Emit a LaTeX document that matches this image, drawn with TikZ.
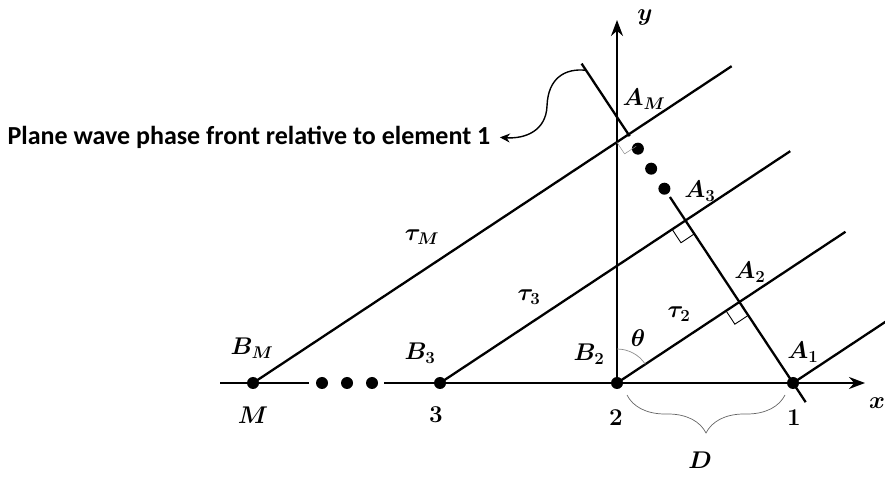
\documentclass[tikz,border=0pt]{standalone}
\usepackage{fix-cm}
\usepackage{fontspec}
\usepackage{amsmath,bm,graphicx}
\newfontfamily\labelfont{Carlito}
\newcommand\mlab[1]{\scalebox{1.15}{$\bm{#1}$}}
\usetikzlibrary{calc,arrows.meta,decorations.pathreplacing}

\begin{document}
\begin{tikzpicture}[x=1pt,y=1pt,>={Stealth[length=16pt,width=12pt]},
  every node/.style={font=\fontsize{21}{24}\selectfont},
  elem/.style={circle,fill,inner sep=0pt,minimum size=12pt},
  mainline/.style={line width=2.3pt},
  rmark/.style={line width=0.9pt},
  thinmark/.style={line width=0.5pt,black!45},
  bracestyle/.style={line width=0.7pt,black!60,decorate,decoration={brace,amplitude=38pt}},
  frontarrow/.style={line width=1.4pt,-{Stealth[length=10pt,width=9pt]},shorten >=6pt}]
  \useasboundingbox (0,0) rectangle (885,476);
  % elements on the x axis
  \node[elem] (eM) at (253,93) {};
  \node[elem] (e3) at (440,93) {};
  \node[elem] (e2) at (617,93) {};
  \node[elem] (e1) at (793,93) {};
  \foreach \x/\n in {322/1,347/2,372/3}
    \node[elem] (gap\n) at (\x,93) {};
  % axes
  \coordinate (xs) at (220,93);
  \coordinate (xg) at (309,93);
  \coordinate (xr) at (384,93);
  \coordinate (xe) at (865,93);
  \coordinate (ye) at (617,456);
  \draw[mainline] (xs) -- (xg);
  \draw[mainline,->] (xr) -- (xe);
  \draw[mainline,->] (e2.center) -- (ye);
  % incoming rays
  \coordinate (rM) at ($(eM)+(33.5:574)$);
  \coordinate (r3) at ($(e3)+(33.5:420)$);
  \coordinate (r2) at ($(e2)+(33.5:274)$);
  \coordinate (r1) at ($(e1)+(33.5:140)$);
  \draw[mainline] (eM.center) -- (rM);
  \draw[mainline] (e3.center) -- (r3);
  \draw[mainline] (e2.center) -- (r2);
  \draw[mainline] (e1.center) -- (r1);
  % phase front
  \coordinate (ftop) at ($(e1)+(123.5:383)$);
  \coordinate (fbot) at ($(e1)+(-56.5:23)$);
  \coordinate (AM) at ($(e1)!(eM)!(ftop)$);
  \coordinate (A3) at ($(e1)!(e3)!(ftop)$);
  \coordinate (A2) at ($(e1)!(e2)!(ftop)$);
  \draw[mainline] (ftop) -- ($(AM)!2pt!(e1)$);
  \draw[mainline] ($(AM)!75pt!(e1)$) -- (fbot);
  \foreach \d/\n in {17/1,41/2,65/3}
    \node[elem] (fd\n) at ($(AM)!\d pt!(e1)$) {};
  % right angles
  \foreach \a/\e in {A2/e2,A3/e3}{
    \coordinate (ma) at ($(\a)!16pt!(\e)$);
    \coordinate (mb) at ($(\a)!16pt!(e1)$);
    \draw[rmark] (ma) -- ($(ma)+(mb)-(\a)$) -- (mb);
  }
  \coordinate (ma) at ($(AM)!14pt!(eM)$);
  \coordinate (mb) at ($(AM)!14pt!(e1)$);
  \draw[thinmark] (ma) -- ($(ma)+(mb)-(AM)$) -- (mb);
  % angle and spacing
  \draw[thinmark,line width=0.7pt] ($(e2)+(90:34)$) arc[start angle=90,end angle=33.5,radius=34];
  \coordinate (bR) at (785,81);
  \coordinate (bL) at (627,81);
  \draw[bracestyle] (bR) -- (bL);
  % labels
  \node (lAM) at (644,377) {\mlab{A_M}};
  \node (lA3) at (700,285) {\mlab{A_3}};
  \node (lA2) at (750,204) {\mlab{A_2}};
  \node (lA1) at (803,124) {\mlab{A_1}};
  \node (lB2) at (589,122) {\mlab{B_2}};
  \node (lB3) at (420,123) {\mlab{B_3}};
  \node (lBM) at (252,128) {\mlab{B_M}};
  \node (lth) at (638,138) {\mlab{\theta}};
  \node (lt2) at (679,162) {\mlab{\tau_2}};
  \node (lt3) at (529,179) {\mlab{\tau_3}};
  \node (ltM) at (422,239) {\mlab{\tau_M}};
  \node (nM) at (253,61) {\mlab{M}};
  \node (n3) at (436,61) {\mlab{3}};
  \node (n2) at (616,58) {\mlab{2}};
  \node (n1) at (794,58) {\mlab{1}};
  \node (lD) at (700,16) {\mlab{D}};
  \node (lx) at (877,73) {\mlab{x}};
  \node (ly) at (645,459) {\mlab{y}};
  % pointer to the front
  \node[anchor=west,font=\labelfont\bfseries\fontsize{26}{30}\selectfont] (front) at (4,339) {Plane wave phase front relative to element 1};
  \coordinate (pst) at ($(ftop)!8pt!(e1)$);
  \draw[frontarrow] (pst) .. controls (565,408) and (548,398) .. (547,370) .. controls (546,345) and (525,337) .. (front.east);
\end{tikzpicture}
\end{document}
